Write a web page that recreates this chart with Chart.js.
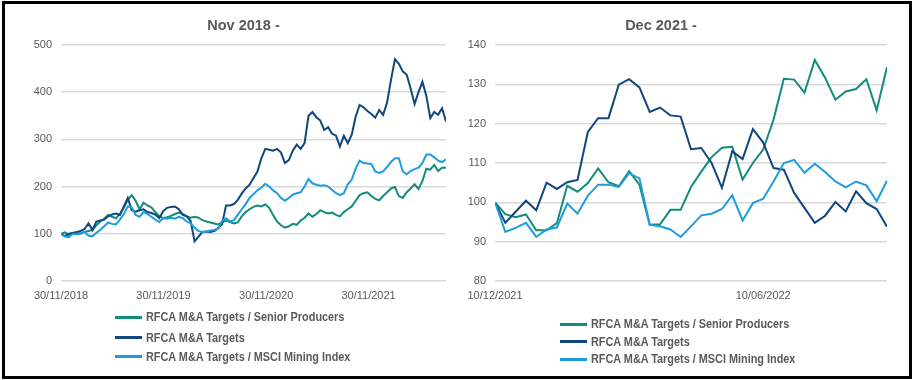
<!DOCTYPE html>
<html>
<head>
<meta charset="utf-8">
<script src="https://cdn.jsdelivr.net/npm/chart.js@4.4.1/dist/chart.umd.min.js"></script>
<style>
  html, body { margin:0; padding:0; background:#fff; width:913px; height:380px; overflow:hidden; }
  #frame { position:absolute; left:2px; top:1px; width:910px; height:378px; box-sizing:border-box; border:3px solid #000; }
  canvas { position:absolute; }
  .legend { position:absolute; left:0; top:0; font-family:'Liberation Sans',Arial,sans-serif; font-weight:bold; font-size:12.5px; color:#595959; }
  .row { position:absolute; display:flex; align-items:center; height:16px; white-space:nowrap; }
  .sw { display:inline-block; width:27px; height:3px; margin-right:4px; flex:none; }
  .tx { display:inline-block; transform:scaleX(0.87); transform-origin:left center; }
</style>
</head>
<body>
<div id="frame"></div>
<canvas id="c1" width="477" height="312" style="left:5px;top:4px;"></canvas>
<canvas id="c2" width="470" height="312" style="left:425px;top:4px;"></canvas>
<div id="lg1" class="legend"></div>
<div id="lg2" class="legend"></div>
<script>
// ---------- DATA ----------
const seriesNames = ['RFCA M&A Targets / Senior Producers', 'RFCA M&A Targets', 'RFCA M&A Targets / MSCI Mining Index'];
const seriesColors = ['#138C7E', '#11467F', '#1E9DDD'];

// Left panel: fortnightly observations from 30/11/2018
const leftStepDays = 14;
const leftTickDays = [0, 365, 731, 1096];
const leftTickLabels = ['30/11/2018', '30/11/2019', '30/11/2020', '30/11/2021'];
const leftSenior = [
  100,103,98,102,100,101,104,106,108,118,
  126,132,140,136,133,142,155,172,182,170,
  152,166,160,156,146,138,133,135,138,142,
  145,142,137,134,136,134,129,126,124,122,
  120,124,128,125,122,124,137,146,152,157,
  160,158,162,155,140,126,118,113,116,121,
  119,128,134,143,136,142,150,146,143,145,
  140,137,146,152,158,170,182,186,188,180,
  174,171,180,188,196,199,180,176,188,196,
  205,195,212,238,236,246,233,240,240];
const leftTargets = [
  100,95,100,102,104,106,110,122,108,126,
  128,130,137,141,143,140,158,176,150,147,
  150,152,146,144,141,133,148,155,157,158,
  152,140,137,127,84,94,104,105,104,106,
  112,120,160,160,163,172,185,196,204,218,
  232,260,280,278,276,280,272,250,256,276,
  289,280,292,350,358,347,340,320,326,312,
  308,285,308,292,310,348,373,368,360,354,
  346,362,352,378,426,470,460,444,437,408,
  375,400,422,392,345,358,352,366,338];
const leftMsci = [
  100,94,93,100,99,100,104,96,95,102,
  108,116,124,121,120,130,142,158,156,140,
  136,146,142,136,130,125,133,132,134,132,
  136,133,126,122,113,106,104,105,107,108,
  111,127,133,126,129,140,152,163,176,184,
  192,198,206,200,192,186,176,170,176,183,
  186,188,200,216,207,204,202,203,200,193,
  186,182,186,205,215,238,255,250,249,248,
  232,229,232,242,252,260,260,232,226,233,
  237,240,250,268,268,262,255,252,258];

// Right panel: weekly observations from 10/12/2021
const rightStepDays = 7;
const rightTickDays = [0, 182];
const rightTickLabels = ['10/12/2021', '10/06/2022'];
const rightSenior = [100,97.0,96.2,96.9,92.9,92.9,94.7,104.2,102.7,104.9,
  108.6,105.1,104.1,107.9,104.5,94.3,94.4,98.1,98.1,103.9,
  107.8,111.5,113.9,114.1,105.8,110.0,113.4,121.0,131.4,131.2,
  127.9,136.2,131.7,126.1,128.2,128.8,131.3,123.4,134.4];
const rightTargets = [100,94.8,97.6,100.4,98.0,105.0,103.4,105.1,105.7,117.9,
  121.4,121.4,129.9,131.3,129.2,123.0,124.1,122.1,121.8,113.5,
  113.8,110.0,103.7,113.0,111.0,118.6,115.2,108.7,108.3,102.4,
  98.6,94.8,96.6,100.1,97.7,102.8,99.8,98.3,93.8];
const rightMsci = [100,92.5,93.5,94.8,91.2,93.1,93.6,99.7,97.1,101.7,
  104.5,104.5,103.9,107.4,106.1,94.3,93.9,93.1,91.2,93.9,
  96.7,97.1,98.3,101.8,95.4,99.8,100.9,105.3,110.0,110.8,
  107.5,109.8,107.7,105.3,103.8,105.3,104.3,100.3,105.5];

// ---------- CHARTS ----------
const FONT = "'Liberation Sans',Arial,sans-serif";
const TXT = '#595959';

function toPoints(arr, step) { return arr.map((v, i) => ({ x: i * step, y: v })); }

function makeChart(id, cfg) {
  const sets = [cfg.senior, cfg.targets, cfg.msci];
  const drawOrder = [2, 1, 0];
  const datasets = sets.map((s, i) => ({
    label: seriesNames[i],
    data: toPoints(s, cfg.step),
    borderColor: seriesColors[i],
    backgroundColor: seriesColors[i],
    borderWidth: 2,
    pointRadius: 0,
    tension: 0,
    fill: false,
    order: drawOrder[i],
    yAxisID: 'y'
  }));
  const maxX = (cfg.senior.length - 1) * cfg.step;
  const scales = {
    x: {
      type: 'linear', min: 0, max: maxX,
      grid: { display: false, drawTicks: false },
      border: { display: false },
      afterBuildTicks: (s) => { s.ticks = cfg.tickDays.map(v => ({ value: v })); },
      afterFit: (s) => { s.height = 35; },
      ticks: {
        autoSkip: false, maxRotation: 0, padding: 8, color: TXT,
        font: { family: FONT, size: 11 },
        callback: (v) => { const k = cfg.tickDays.indexOf(v); return k >= 0 ? cfg.tickLabels[k] : ''; }
      }
    },
    y: {
      position: 'left',
      min: cfg.yMin, max: cfg.yMax,
      grid: { color: '#D9D9D9', lineWidth: 1.5, drawTicks: false },
      border: { display: false },
      afterFit: (s) => { s.width = cfg.yWidth; },
      ticks: { stepSize: cfg.yStep, padding: 9, color: TXT, font: { family: FONT, size: 11 } }
    }
  };
  if (cfg.rightGap) {
    // empty spacer on the right so the title centres like the original
    scales.spacer = {
      type: 'linear', position: 'right', display: true,
      grid: { display: false, drawTicks: false }, border: { display: false },
      ticks: { display: false },
      afterFit: (s) => { s.width = cfg.rightGap; }
    };
  }
  return new Chart(document.getElementById(id), {
    type: 'line',
    data: { datasets },
    options: {
      responsive: false,
      animation: false,
      events: [],
      layout: { padding: { left: cfg.padLeft, right: cfg.padRight, top: 0, bottom: 0 } },
      plugins: {
        legend: { display: false },
        tooltip: { enabled: false },
        title: {
          display: true, text: cfg.title, color: TXT,
          font: { family: FONT, size: 14.5, weight: 'bold' },
          padding: { top: 13, bottom: 10.6 }
        }
      },
      scales
    }
  });
}

makeChart('c1', { title: 'Nov 2018 -', senior: leftSenior, targets: leftTargets, msci: leftMsci,
  step: leftStepDays, tickDays: leftTickDays, tickLabels: leftTickLabels,
  yMin: 0, yMax: 500, yStep: 100, yWidth: 56, padLeft: 0, padRight: 0, rightGap: 36 });
makeChart('c2', { title: 'Dec 2021 -', senior: rightSenior, targets: rightTargets, msci: rightMsci,
  step: rightStepDays, tickDays: rightTickDays, tickLabels: rightTickLabels,
  yMin: 80, yMax: 140, yStep: 10, yWidth: 60, padLeft: 10, padRight: 8, rightGap: 0 });

// ---------- LEGENDS ----------
function makeLegend(id, left, centers) {
  const el = document.getElementById(id);
  seriesNames.forEach((n, i) => {
    const row = document.createElement('div');
    row.className = 'row';
    row.style.left = left + 'px';
    row.style.top = (centers[i] - 8) + 'px';
    const sw = document.createElement('span');
    sw.className = 'sw';
    sw.style.background = seriesColors[i];
    const tx = document.createElement('span');
    tx.className = 'tx';
    tx.textContent = n;
    row.appendChild(sw); row.appendChild(tx);
    el.appendChild(row);
  });
}
makeLegend('lg1', 115, [317, 337.5, 356.5]);
makeLegend('lg2', 560, [324, 341.5, 359]);
</script>
</body>
</html>
